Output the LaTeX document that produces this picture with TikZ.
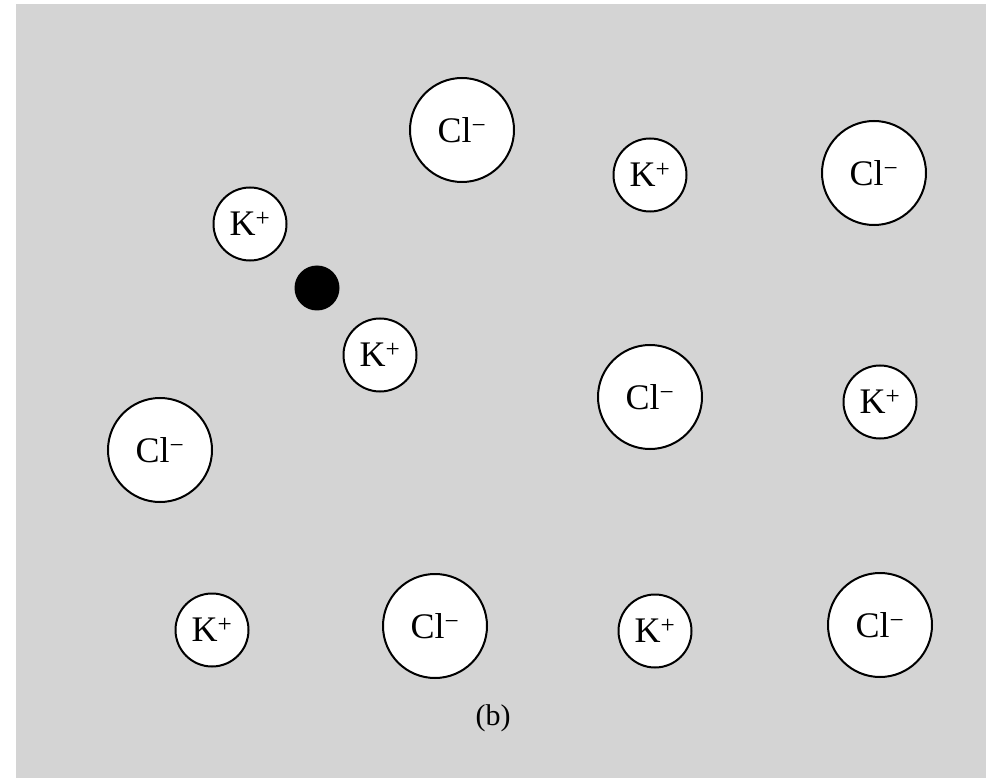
\documentclass[tikz,border=0pt]{standalone}
\usepackage{fontspec}
\setmainfont{Liberation Serif}
\definecolor{bggray}{RGB}{212,212,212}
\begin{document}
\begin{tikzpicture}[x=1pt,y=-1pt,
  ion/.style={circle,draw=black,line width=2pt,fill=white,inner sep=0pt,font=\fontsize{36}{36}\selectfont},
  cl/.style={ion,minimum size=104pt},
  kp/.style={ion,minimum size=73pt},
  hole/.style={circle,fill=black,inner sep=0pt,minimum size=45pt}]
\useasboundingbox (0,0) rectangle (986,778);
\fill[white] (0,0) rectangle (986,778);
\fill[bggray] (16,4) rectangle (986,778);
\node[cl] (cl1) at (462,130) {Cl\textsuperscript{−}};
\node[kp] (k1) at (650,175) {K\textsuperscript{+}};
\node[cl] (cl2) at (874,173) {Cl\textsuperscript{−}};
\node[kp] (k2) at (250,224) {K\textsuperscript{+}};
\node[hole] (v) at (317,288) {};
\node[kp] (k3) at (380,355) {K\textsuperscript{+}};
\node[cl] (cl3) at (650,397) {Cl\textsuperscript{−}};
\node[kp] (k4) at (880,402) {K\textsuperscript{+}};
\node[cl] (cl4) at (160,450) {Cl\textsuperscript{−}};
\node[kp] (k5) at (212,630) {K\textsuperscript{+}};
\node[cl] (cl5) at (435,626) {Cl\textsuperscript{−}};
\node[kp] (k6) at (655,631) {K\textsuperscript{+}};
\node[cl] (cl6) at (880,625) {Cl\textsuperscript{−}};
\node[font=\fontsize{30}{30}\selectfont] (lab) at (493,718) {(b)};
\end{tikzpicture}
\end{document}
